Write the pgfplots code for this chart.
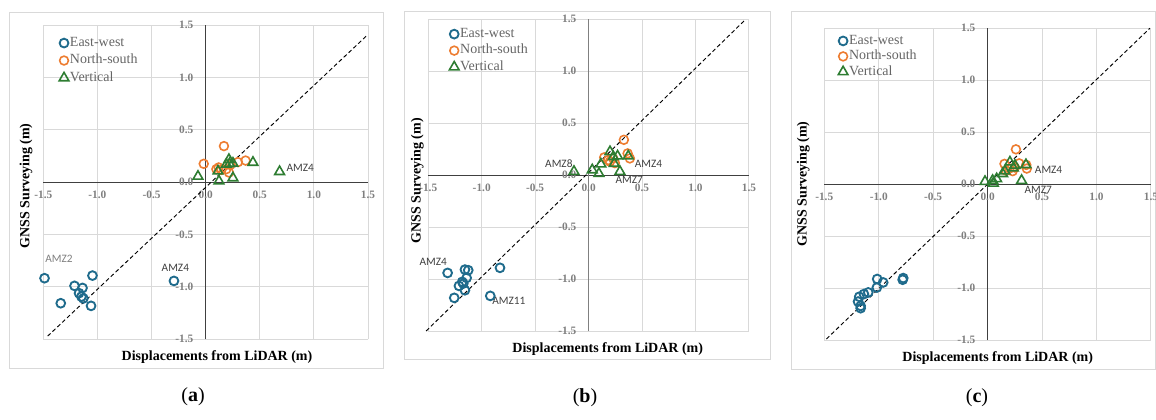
\documentclass[border=0pt]{standalone}
\usepackage{fontspec}
\setmainfont{Liberation Serif}
\newfontfamily\calibri{Carlito}
\usepackage{pgfplots}
\pgfplotsset{compat=1.18}
\definecolor{ew}{HTML}{1F6B8C}
\definecolor{ns}{HTML}{ED7D31}
\definecolor{vt}{HTML}{2E7D32}
\definecolor{gridc}{HTML}{D9D9D9}
\definecolor{tickc}{HTML}{7F7F7F}
\definecolor{lab}{HTML}{404040}
\pgfplotsset{
  myax/.style={
    scale only axis,
    anchor=south west,
    axis lines=middle,
    axis line style={-, draw=lab, line width=0.8pt},
    xmin=-1.5, xmax=1.5, ymin=-1.5, ymax=1.5,
    xtick={-1.5,-1,-0.5,0,0.5,1,1.5},
    ytick={-1.5,-1,-0.5,0,0.5,1,1.5},
    xticklabels={-1.5,-1.0,-0.5,0.0,0.5,1.0,1.5},
    yticklabels={-1.5,-1.0,-0.5,0.0,0.5,1.0,1.5},
    hide obscured x ticks=false,
    hide obscured y ticks=false,
    major tick length=0pt,
    grid=major,
    major grid style={draw=gridc, line width=0.75pt},
    xticklabel style={anchor=center, yshift=-9.75pt, inner sep=0pt, font=\fontsize{8.5}{10}\selectfont\bfseries, text=tickc},
    yticklabel style={anchor=east, xshift=-9pt, inner sep=0pt, font=\fontsize{8.5}{10}\selectfont\bfseries, text=tickc},
    clip=false,
    legend cell align=left,
    legend style={draw=none, fill=none, anchor=north west, inner sep=0pt,
      font=\fontsize{10.5}{12}\selectfont, text=tickc!80!black,
      nodes={inner sep=0.8pt, text height=7.5pt, text depth=2.5pt}},
    legend image code/.code={\draw[##1,only marks] plot coordinates {(0.14cm,0cm)};},
  },
  ewst/.style={only marks, mark=o, mark size=3.3pt, draw=ew, line width=1.4pt, mark options={draw=ew, line width=1.4pt}},
  nsst/.style={only marks, mark=o, mark size=3.3pt, draw=ns, line width=1.2pt, mark options={draw=ns, line width=1.2pt}},
  vtst/.style={only marks, mark=triangle, mark size=4.2pt, draw=vt, line width=1.2pt, mark options={draw=vt, line width=1.2pt}},
}
\tikzset{dlab/.style={font=\calibri\fontsize{8.5}{10}\selectfont, text=lab, inner sep=0pt}}
\begin{document}
\begin{tikzpicture}
\path[use as bounding box] (0,0) rectangle (867pt,314.25pt);
% frames
\draw[gridc, line width=0.75pt] (7pt,38.25pt) rectangle (287.5pt,305pt);
\draw[gridc, line width=0.75pt] (303.2pt,45pt) rectangle (577.5pt,306pt);
\draw[gridc, line width=0.75pt] (593.25pt,37.3pt) rectangle (866.6pt,305.5pt);

% ---------- (a)
\begin{axis}[myax, at={(32.5pt,59.8pt)}, width=243.5pt, height=235.7pt,
  legend style={at={(0.048,0.968)}, row sep=1.5pt}]
\addplot[ewst] coordinates {(-1.489,-0.917) (-1.046,-0.892) (-1.212,-0.990) (-1.138,-1.010) (-1.170,-1.060) (-1.148,-1.093) (-1.130,-1.110) (-1.339,-1.156) (-1.059,-1.181) (-0.293,-0.943)};
\addlegendentry{East-west}
\addplot[nsst] coordinates {(-0.018,0.175) (0.169,0.344) (0.099,0.124) (0.145,0.117) (0.191,0.124) (0.215,0.092) (0.298,0.191) (0.369,0.206) (0.228,0.165) (0.12,0.14)};
\addlegendentry{North-south}
\addplot[vtst] coordinates {(-0.071,0.055) (0.123,0.010) (0.114,0.105) (0.215,0.215) (0.252,0.180) (0.191,0.170) (0.252,0.040) (0.437,0.188) (0.683,0.100) (0.22,0.175)};
\addlegendentry{Vertical}
\addplot[black, dashed, line width=0.7pt, dash pattern=on 3pt off 2pt, forget plot] coordinates {(-1.46,-1.47) (1.49,1.40)};
\node[dlab, text=tickc] at (axis cs:-1.355,-0.735) {AMZ2};
\node[dlab] at (axis cs:-0.28,-0.82) {AMZ4};
\node[dlab] at (axis cs:0.874,0.134) {AMZ4};
\end{axis}

% ---------- (b)
\begin{axis}[myax, at={(321.2pt,66pt)}, width=240.5pt, height=233.8pt,
  y axis line style={draw=gray, line width=1.3pt},
  legend style={at={(0.065,0.978)}, row sep=0.75pt}]
\addplot[ewst] coordinates {(-1.319,-0.941) (-1.157,-0.909) (-1.126,-0.915) (-1.141,-0.989) (-1.182,-1.027) (-1.213,-1.066) (-1.172,-1.043) (-1.157,-1.108) (-1.257,-1.181) (-0.829,-0.892) (-0.920,-1.162)};
\addlegendentry{East-west}
\addplot[nsst] coordinates {(0.330,0.340) (0.365,0.209) (0.386,0.161) (0.146,0.171) (0.183,0.145) (0.230,0.161) (0.246,0.116) (0.20,0.13)};
\addlegendentry{North-south}
\addplot[vtst] coordinates {(-0.137,0.035) (0.034,0.050) (0.097,0.015) (0.115,0.106) (0.200,0.225) (0.231,0.177) (0.271,0.183) (0.293,0.035) (0.371,0.183) (0.240,0.112)};
\addlegendentry{Vertical}
\addplot[black, dashed, line width=0.7pt, dash pattern=on 3pt off 2pt, forget plot] coordinates {(-1.52,-1.5) (1.47,1.5)};
\node[dlab] at (axis cs:-0.278,0.113) {AMZ8};
\node[dlab] at (axis cs:0.56,0.113) {AMZ4};
\node[dlab] at (axis cs:0.38,-0.05) {AMZ7};
\node[dlab] at (axis cs:-1.454,-0.835) {AMZ4};
\node[dlab] at (axis cs:-0.746,-1.214) {AMZ11};
\end{axis}

% ---------- (c)
\begin{axis}[myax, at={(618.2pt,59.25pt)}, width=245pt, height=233.8pt,
  legend style={at={(0.042,0.985)}, row sep=0pt}]
\addplot[ewst] coordinates {(-0.775,-0.904) (-0.78,-0.92) (-1.014,-0.913) (-0.959,-0.946) (-1.017,-0.995) (-1.096,-1.042) (-1.136,-1.058) (-1.179,-1.084) (-1.19,-1.13) (-1.166,-1.172) (-1.166,-1.194)};
\addlegendentry{East-west}
\addplot[nsst] coordinates {(0.26,0.335) (0.155,0.195) (0.29,0.20) (0.36,0.15) (0.355,0.185) (0.20,0.15) (0.23,0.125) (0.17,0.13) (0.25,0.16)};
\addlegendentry{North-south}
\addplot[vtst] coordinates {(-0.024,0.025) (0.052,0.008) (0.046,0.035) (0.083,0.051) (0.138,0.10) (0.159,0.126) (0.205,0.212) (0.251,0.180) (0.236,0.154) (0.352,0.187) (0.312,0.035)};
\addlegendentry{Vertical}
\addplot[black, dashed, line width=0.7pt, dash pattern=on 3pt off 2pt, forget plot] coordinates {(-1.48,-1.49) (1.49,1.5)};
\node[dlab] at (axis cs:0.56,0.139) {AMZ4};
\node[dlab] at (axis cs:0.465,-0.055) {AMZ7};
\end{axis}

% axis titles
\node[font=\fontsize{10.5}{12}\selectfont\bfseries] at (162.75pt,46.5pt) {Displacements from LiDAR (m)};
\node[font=\fontsize{10.5}{12}\selectfont\bfseries, rotate=90] at (19.5pt,174.75pt) {GNSS Surveying (m)};
\node[font=\fontsize{10.5}{12}\selectfont\bfseries] at (455.8pt,52.3pt) {Displacements from LiDAR (m)};
\node[font=\fontsize{10.5}{12}\selectfont\bfseries, rotate=90] at (313pt,178.6pt) {GNSS Surveying (m)};
\node[font=\fontsize{10.5}{12}\selectfont\bfseries] at (748.3pt,46pt) {Displacements from LiDAR (m)};
\node[font=\fontsize{10.5}{12}\selectfont\bfseries, rotate=90] at (602.5pt,176.25pt) {GNSS Surveying (m)};
% captions
\node[font=\fontsize{15}{17}\selectfont] at (144.75pt,16.5pt) {(\textbf{a})};
\node[font=\fontsize{15}{17}\selectfont] at (438.75pt,16pt) {(\textbf{b})};
\node[font=\fontsize{15}{17}\selectfont] at (732.75pt,16pt) {(\textbf{c})};
\end{tikzpicture}
\end{document}
